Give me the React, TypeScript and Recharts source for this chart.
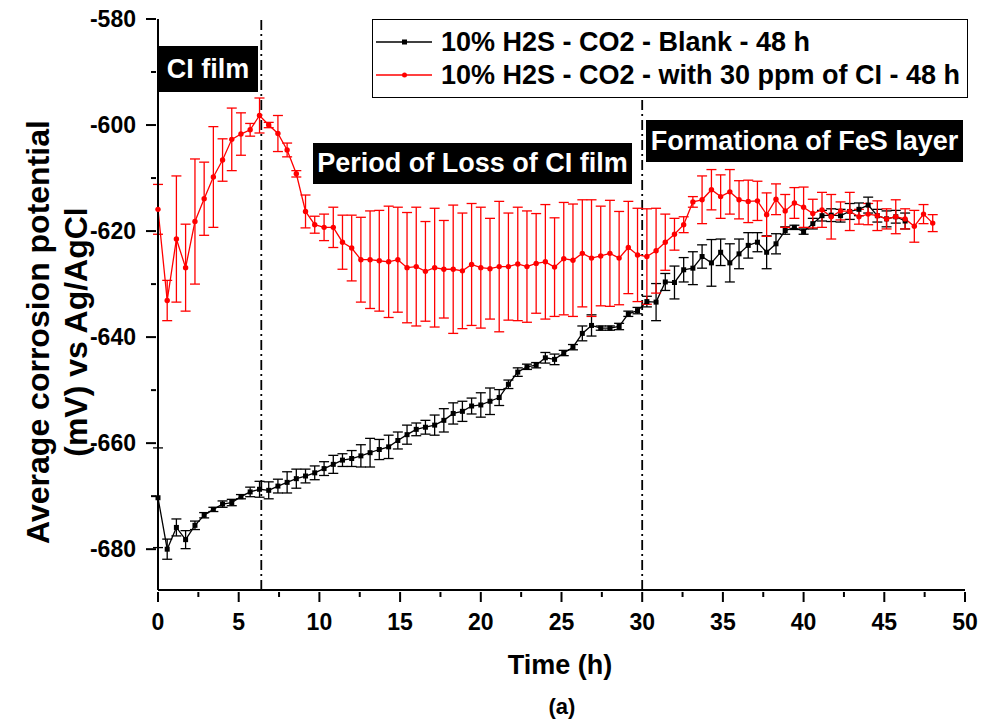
import React from 'react';
import { ComposedChart, Line, XAxis, YAxis, ErrorBar, ReferenceLine } from 'recharts';

const FONT = '"Liberation Sans", Arial, sans-serif';

// time in hours for each measurement
const times = [
  0, 0.57, 1.14, 1.71, 2.29, 2.86, 3.43, 4.0, 4.57, 5.14, 5.71, 6.29, 6.86, 7.43, 8.0, 8.57, 9.14,
  9.71, 10.29, 10.86, 11.43, 12.0, 12.57, 13.14, 13.71, 14.29, 14.86, 15.43, 16.0, 16.57, 17.14,
  17.71, 18.29, 18.86, 19.43, 20.0, 20.57, 21.14, 21.71, 22.29, 22.86, 23.43, 24.0, 24.57, 25.14,
  25.71, 26.29, 26.86, 27.43, 28.0, 28.57, 29.14, 29.71, 30.29, 30.86, 31.43, 32.0, 32.57, 33.14,
  33.71, 34.29, 34.86, 35.43, 36.0, 36.57, 37.14, 37.71, 38.29, 38.86, 39.43, 40.0, 40.57, 41.14,
  41.71, 42.29, 42.86, 43.43, 44.0, 44.57, 45.14, 45.71, 46.29, 46.86, 47.43, 48.0,
];

// 10% H2S - CO2 - Blank
const blank = [
  -670.3, -680.0, -675.9, -678.2, -675.5, -673.6, -672.5, -671.5, -671.2, -670.1, -669.2, -668.7,
  -668.9, -668.1, -667.4, -666.7, -666.2, -665.6, -664.8, -664.0, -663.2, -662.9, -662.4, -661.8,
  -661.2, -660.7, -659.5, -658.4, -657.4, -657.0, -656.6, -655.7, -654.4, -654.0, -653.0, -652.8,
  -652.1, -651.4, -648.9, -646.6, -645.6, -645.3, -643.9, -644.2, -643.0, -641.9, -639.3, -637.8,
  -638.3, -638.3, -638.0, -635.6, -635.0, -633.3, -633.4, -629.6, -629.7, -627.3, -627.0, -624.8,
  -626.0, -624.0, -626.0, -624.3, -622.7, -622.1, -624.0, -622.4, -619.9, -619.3, -620.1, -618.6,
  -617.1, -617.0, -617.1, -616.3, -615.9, -615.1, -617.1, -617.7, -617.3, -618.1,
];
const blankErr = [
  9.4, 1.9, 1.6, 1.7, 0.8, 0.5, 0.4, 0.6, 0.6, 0.4, 0.9, 1.5, 1.6, 1.3, 2.0, 1.8, 1.3, 1.3, 1.3, 1.7,
  1.2, 1.5, 2.1, 2.7, 1.9, 2.2, 1.6, 1.8, 1.2, 1.3, 1.9, 2.2, 2.0, 1.9, 1.5, 2.3, 2.5, 1.5, 0.8, 0.8,
  0.5, 0.5, 1.0, 1.0, 0.5, 0.5, 1.4, 2.0, 0.4, 0.4, 0.6, 0.5, 0.6, 1.0, 3.5, 1.6, 3.1, 2.3, 3.1, 2.2,
  4.4, 2.5, 3.6, 2.8, 2.4, 1.8, 3.1, 1.9, 0.7, 0.4, 0.5, 1.0, 1.0, 1.2, 1.2, 1.5, 1.2, 1.5, 1.2, 1.5,
  1.2, 1.5,
];

// 10% H2S - CO2 - with 30 ppm of CI
const inhibited = [
  -615.9, -633.1, -621.5, -626.9, -618.2, -613.9, -609.8, -606.6, -602.7, -601.7, -600.9, -598.2,
  -600.0, -601.6, -604.7, -609.2, -616.3, -618.8, -619.3, -619.3, -622.1, -623.2, -625.4, -625.4,
  -625.6, -625.8, -625.4, -626.9, -626.7, -627.6, -626.9, -627.2, -627.2, -627.5, -626.3, -626.9,
  -627.1, -626.7, -626.7, -626.2, -626.7, -626.1, -625.8, -626.8, -625.2, -625.5, -624.2, -625.1,
  -624.7, -624.2, -625.1, -623.1, -624.5, -624.8, -623.7, -622.1, -620.6, -618.8, -614.5, -614.1,
  -612.2, -613.5, -612.6, -614.1, -614.4, -614.3, -616.9, -614.0, -616.2, -614.7, -615.5, -616.7,
  -616.0, -617.3, -616.2, -616.3, -617.3, -616.8, -617.1, -617.7, -617.3, -617.7, -619.1, -616.8,
  -618.5,
];
const inhibitedErr = [
  4.7, 3.8, 11.9, 8.2, 11.8, 6.9, 9.5, 4.0, 5.9, 4.0, 1.2, 3.3, 0.5, 3.4, 1.3, 0.6, 3.1, 1.6, 2.5,
  3.8, 5.1, 6.2, 8.0, 9.2, 9.5, 10.5, 9.9, 10.4, 11.2, 9.4, 11.2, 9.2, 12.1, 10.9, 11.5, 11.4, 9.5,
  12.3, 10.1, 10.7, 10.5, 9.4, 10.8, 9.3, 10.6, 10.6, 10.1, 11.0, 9.4, 10.0, 8.8, 8.7, 8.8, 9.0, 8.0,
  5.3, 3.0, 1.5, 1.0, 4.5, 3.8, 4.1, 4.2, 3.6, 4.0, 3.7, 4.1, 2.9, 3.1, 2.9, 3.8, 2.7, 3.3, 4.2, 1.7,
  3.6, 1.4, 2.0, 2.8, 1.9, 3.2, 1.9, 3.0, 1.8, 1.6,
];

const xTicks = [0, 2.5, 5, 7.5, 10, 12.5, 15, 17.5, 20, 22.5, 25, 27.5, 30, 32.5, 35, 37.5, 40, 42.5, 45, 47.5, 50];
const yTicks = [-680, -670, -660, -650, -640, -630, -620, -610, -600, -590, -580];
const markerLines = [6.4, 30];

const data = times.map((t, i) => ({
  t,
  blank: blank[i],
  blankErr: blankErr[i],
  ci: inhibited[i],
  ciErr: inhibitedErr[i],
}));

const XTick = (props: any) => {
  const { x, y, payload } = props;
  const major = payload.value % 5 === 0;
  return (
    <g>
      <line x1={x} x2={x} y1={y} y2={y + (major ? 10 : 5)} stroke="#000" strokeWidth={2} />
      {major && (
        <text x={x} y={y + 38} textAnchor="middle" fontFamily={FONT} fontWeight="bold" fontSize={23} fill="#000">
          {payload.value}
        </text>
      )}
    </g>
  );
};

const YTick = (props: any) => {
  const { x, y, payload } = props;
  const major = payload.value % 20 === 0;
  return (
    <g>
      <line x1={x} x2={x - (major ? 10 : 5)} y1={y} y2={y} stroke="#000" strokeWidth={2} />
      {major && (
        <text x={x - 20} y={y + 8} textAnchor="end" fontFamily={FONT} fontWeight="bold" fontSize={23} fill="#000">
          {payload.value}
        </text>
      )}
    </g>
  );
};

const SquareDot = (props: any) => {
  const { cx, cy, index } = props;
  if (cx == null || cy == null) return <g key={`b-${index}`} />;
  return <rect key={`b-${index}`} x={cx - 2.5} y={cy - 2.5} width={5} height={5} fill="#000" />;
};

const boxStyle: React.CSSProperties = {
  position: 'absolute',
  background: '#000',
  color: '#fff',
  fontFamily: FONT,
  fontWeight: 'bold',
  fontSize: 27,
  display: 'flex',
  alignItems: 'center',
  justifyContent: 'center',
  whiteSpace: 'nowrap',
};

export default function App() {
  return (
    <div style={{ position: 'absolute', left: 0, top: 0, width: 988, height: 720, background: '#fff' }}>
      <ComposedChart width={988} height={720} data={data} margin={{ top: 19, right: 23, bottom: 90, left: 98 }}>
        <XAxis
          dataKey="t"
          type="number"
          domain={[0, 50]}
          ticks={xTicks}
          interval={0}
          tickSize={0}
          tickLine={false}
          tick={<XTick />}
          axisLine={{ stroke: '#000', strokeWidth: 2 }}
          height={40}
        />
        <XAxis xAxisId="top" orientation="top" type="number" domain={[0, 50]} tick={false} height={0} axisLine={{ stroke: '#000', strokeWidth: 2 }} />
        <YAxis
          type="number"
          domain={[-687.7, -580]}
          ticks={yTicks}
          interval={0}
          tickSize={0}
          tickLine={false}
          tick={<YTick />}
          axisLine={{ stroke: '#000', strokeWidth: 2 }}
          width={60}
          allowDataOverflow
        />
        <YAxis yAxisId="right" orientation="right" type="number" domain={[-687.7, -580]} tick={false} width={0} axisLine={{ stroke: '#000', strokeWidth: 2 }} />
        {markerLines.map((v) => (
          <ReferenceLine key={v} x={v} stroke="#000" strokeWidth={1.8} strokeDasharray="10 4 2 4" />
        ))}
        <Line
          dataKey="blank"
          stroke="#000"
          strokeWidth={1.3}
          dot={<SquareDot />}
          isAnimationActive={false}
        >
          <ErrorBar dataKey="blankErr" direction="y" width={5} stroke="#000" strokeWidth={1.3} />
        </Line>
        <Line
          dataKey="ci"
          stroke="#ff0000"
          strokeWidth={1.3}
          dot={{ r: 2.7, fill: '#ff0000', stroke: '#ff0000', strokeWidth: 0 }}
          isAnimationActive={false}
        >
          <ErrorBar dataKey="ciErr" direction="y" width={5} stroke="#ff0000" strokeWidth={1.3} />
        </Line>
      </ComposedChart>

      {/* axis titles */}
      <svg width={988} height={720} style={{ position: 'absolute', left: 0, top: 0, pointerEvents: 'none' }}>
        <text x={560} y={674} textAnchor="middle" fontFamily={FONT} fontWeight="bold" fontSize={27}>Time (h)</text>
        <text x={562} y={714} textAnchor="middle" fontFamily={FONT} fontWeight="bold" fontSize={22}>(a)</text>
        <g transform="translate(49,332) rotate(-90)">
          <text x={0} y={0} textAnchor="middle" fontFamily={FONT} fontWeight="bold" fontSize={32}>Average corrosion potential</text>
          <text x={0} y={38} textAnchor="middle" fontFamily={FONT} fontWeight="bold" fontSize={32}>(mV) vs Ag/AgCl</text>
        </g>
      </svg>

      {/* annotation boxes */}
      <div style={{ ...boxStyle, left: 158, top: 46, width: 100, height: 46 }}>CI film</div>
      <div style={{ ...boxStyle, left: 313, top: 143, width: 319, height: 41 }}>Period of Loss of CI film</div>
      <div style={{ ...boxStyle, left: 646, top: 120, width: 317, height: 42 }}>Formationa of FeS layer</div>

      {/* legend */}
      <div
        style={{
          position: 'absolute',
          left: 372,
          top: 19,
          width: 596,
          height: 79,
          border: '1.5px solid #000',
          background: '#fff',
          boxSizing: 'border-box',
          fontFamily: FONT,
          fontWeight: 'bold',
          fontSize: 27,
        }}
      >
        {[
          { color: '#000', label: '10% H2S - CO2 - Blank - 48 h', square: true },
          { color: '#ff0000', label: '10% H2S - CO2 - with 30 ppm of CI - 48 h', square: false },
        ].map((item, i) => (
          <div key={i} style={{ position: 'absolute', left: 3, top: 6 + i * 33, height: 32, display: 'flex', alignItems: 'center', whiteSpace: 'nowrap' }}>
            <svg width={58} height={10} style={{ marginRight: 7 }}>
              <line x1={0} x2={56} y1={5} y2={5} stroke={item.color} strokeWidth={1.3} />
              {item.square ? (
                <rect x={26} y={2.5} width={5} height={5} fill={item.color} />
              ) : (
                <circle cx={28.5} cy={5} r={2.5} fill={item.color} />
              )}
            </svg>
            <span>{item.label}</span>
          </div>
        ))}
      </div>
    </div>
  );
}
